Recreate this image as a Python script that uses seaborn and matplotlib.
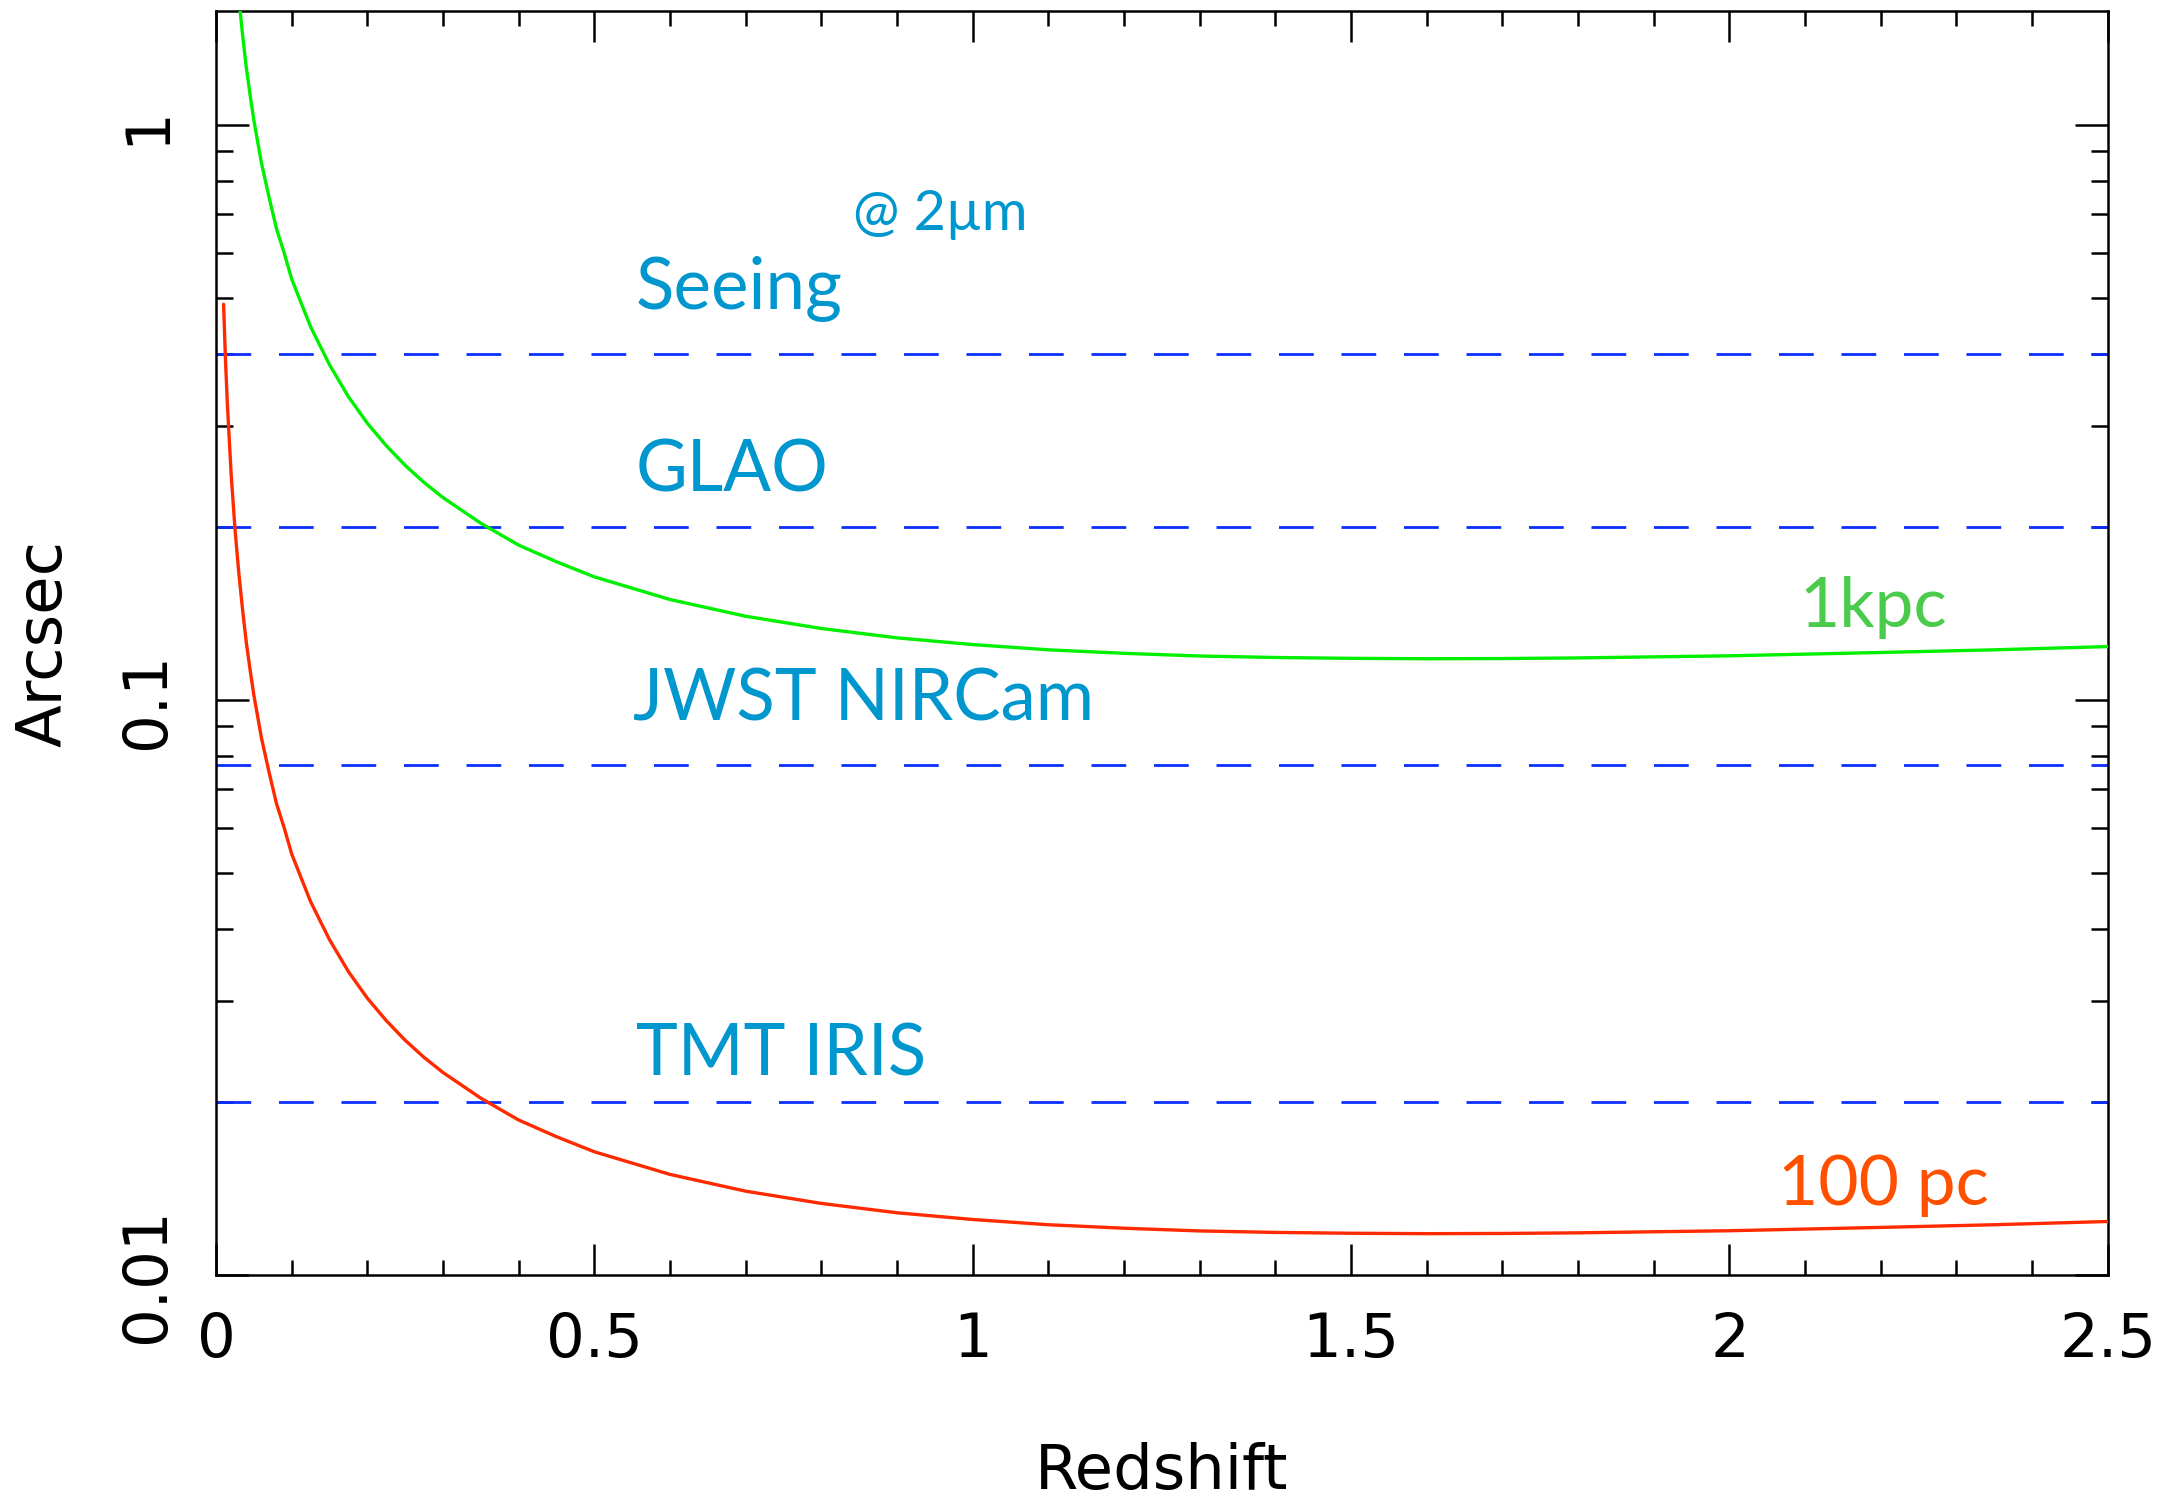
"""
Angular size of 1 kpc / 100 pc vs redshift, with instrument resolution limits.
"""

import numpy as np
import matplotlib
matplotlib.use("Agg")
import matplotlib.pyplot as plt
from matplotlib.ticker import FixedLocator, FixedFormatter, LogLocator, MultipleLocator, NullFormatter
import seaborn as sns


# ---------------------------------------------------------------------------
# Data
# ---------------------------------------------------------------------------
z_1kpc = [0.03, 0.035, 0.04, 0.045, 0.05, 0.06, 0.07, 0.08, 0.09, 0.10, 0.11,
          0.125, 0.15, 0.175, 0.20, 0.225, 0.25, 0.275, 0.30, 0.35, 0.40, 0.45,
          0.50, 0.60, 0.70, 0.80, 0.90, 1.00, 1.10, 1.20, 1.30, 1.40, 1.50,
          1.60, 1.70, 1.80, 1.90, 2.00, 2.10, 2.20, 2.35, 2.50]
arcsec_1kpc = [1.67, 1.44, 1.26, 1.13, 1.02, 0.86, 0.75, 0.66, 0.60, 0.54, 0.50,
               0.446, 0.383, 0.337, 0.303, 0.277, 0.256, 0.239, 0.225, 0.203, 0.186, 0.174,
               0.1638, 0.1496, 0.1399, 0.1332, 0.1283, 0.1249, 0.1223, 0.1206, 0.1193, 0.1186, 0.1182,
               0.1180, 0.1181, 0.1184, 0.1189, 0.1194, 0.1202, 0.1210, 0.1223, 0.1239]

z_100pc = [0.01, 0.0125, 0.015, 0.02, 0.025, 0.03, 0.035, 0.04, 0.045, 0.05, 0.06,
           0.07, 0.08, 0.09, 0.10, 0.11, 0.125, 0.15, 0.175, 0.20, 0.225, 0.25,
           0.275, 0.30, 0.35, 0.40, 0.45, 0.50, 0.60, 0.70, 0.80, 0.90, 1.00,
           1.10, 1.20, 1.30, 1.40, 1.50, 1.60, 1.70, 1.80, 1.90, 2.00, 2.10,
           2.20, 2.35, 2.50]
arcsec_100pc = [0.488, 0.391, 0.327, 0.247, 0.199, 0.167, 0.144, 0.126, 0.113, 0.102, 0.086,
                0.075, 0.066, 0.060, 0.054, 0.050, 0.0446, 0.0383, 0.0337, 0.0303, 0.0277, 0.0256,
                0.0239, 0.0225, 0.0203, 0.0186, 0.0174, 0.01638, 0.01496, 0.01399, 0.01332, 0.01283, 0.01249,
                0.01223, 0.01206, 0.01193, 0.01186, 0.01182, 0.01180, 0.01181, 0.01184, 0.01189, 0.01194, 0.01202,
                0.01210, 0.01223, 0.01239]

# resolution limits (arcsec) and their labels
limit_names = ["Seeing", "GLAO", "JWST NIRCam", "TMT IRIS"]
limit_values = [0.40, 0.20, 0.077, 0.020]
# label anchor (redshift, arcsec) -- baseline left
limit_label_z = [0.555, 0.555, 0.551, 0.555]
limit_label_y = [0.479, 0.231, 0.0921, 0.0222]

y_major = [0.01, 0.1, 1]
y_major_labels = ["0.01", "0.1", "1"]
x_major = [0, 0.5, 1, 1.5, 2, 2.5]
x_major_labels = ["0", "0.5", "1", "1.5", "2", "2.5"]

# colours
GREEN_LINE = "#00F000"
RED_LINE = "#FF2A00"
DASH_BLUE = "#0A2EFF"
LABEL_BLUE = "#0096CE"
LABEL_GREEN = "#4BCB4B"
LABEL_RED = "#FF5000"


# ---------------------------------------------------------------------------
# Figure
# ---------------------------------------------------------------------------
sns.set_style("white")
plt.rcParams["font.family"] = ["DejaVu Sans"]
plt.rcParams["text.color"] = "black"
plt.rcParams["axes.labelcolor"] = "black"

fig = plt.figure(figsize=(21.82, 15), dpi=100)
ax = fig.add_axes([0.099, 0.15, 0.867, 0.8427])

for val in limit_values:
    ax.axhline(val, color=DASH_BLUE, lw=2.0, dashes=(12.5, 10), zorder=2)

sns.lineplot(x=z_1kpc, y=arcsec_1kpc, ax=ax, color=GREEN_LINE, lw=2.4,
             estimator=None, sort=False, zorder=3)
sns.lineplot(x=z_100pc, y=arcsec_100pc, ax=ax, color=RED_LINE, lw=2.4,
             estimator=None, sort=False, zorder=3)

ax.set_yscale("log")
ax.set_xlim(0, 2.5)
ax.set_ylim(0.01, 1.58)

# ticks: IDL style, inward on all four sides
ax.yaxis.set_major_locator(FixedLocator(y_major))
ax.yaxis.set_major_formatter(FixedFormatter(y_major_labels))
ax.yaxis.set_minor_locator(LogLocator(base=10, subs=np.arange(2, 10)))
ax.yaxis.set_minor_formatter(NullFormatter())
ax.xaxis.set_major_locator(FixedLocator(x_major))
ax.xaxis.set_major_formatter(FixedFormatter(x_major_labels))
ax.xaxis.set_minor_locator(MultipleLocator(0.1))

ax.tick_params(axis="both", which="both", direction="in",
               left=True, bottom=True, top=True, right=True,
               width=1.8, colors="black", labelsize=44)
ax.tick_params(axis="y", which="major", length=24, pad=28, labelrotation=90)
ax.tick_params(axis="y", which="minor", length=12)
ax.tick_params(axis="x", which="major", length=22, pad=26)
ax.tick_params(axis="x", which="minor", length=11)
for lab in ax.get_yticklabels():
    lab.set_verticalalignment("center")

for side in ["left", "right", "top", "bottom"]:
    ax.spines[side].set_linewidth(1.8)
    ax.spines[side].set_color("black")

ax.set_xlabel("Redshift", fontsize=45, color="black")
ax.set_ylabel("Arcsec", fontsize=45, color="black")
ax.xaxis.set_label_coords(0.5, -0.132)
ax.yaxis.set_label_coords(-0.075, 0.5)

# annotations
label_font = ["Lato", "DejaVu Sans"]
for name, zx, yy in zip(limit_names, limit_label_z, limit_label_y):
    ax.text(zx, yy, name, color=LABEL_BLUE, fontsize=51, family=label_font,
            ha="left", va="baseline")
ax.text(0.842, 0.658, "@ 2µm", color=LABEL_BLUE, fontsize=40, family=label_font,
        ha="left", va="baseline")
ax.text(2.092, 0.134, "1kpc", color=LABEL_GREEN, fontsize=50, family=label_font,
        ha="left", va="baseline")
ax.text(2.064, 0.01323, "100 pc", color=LABEL_RED, fontsize=50, family=label_font,
        ha="left", va="baseline")

fig.savefig("out.png", dpi=100)
plt.close(fig)
